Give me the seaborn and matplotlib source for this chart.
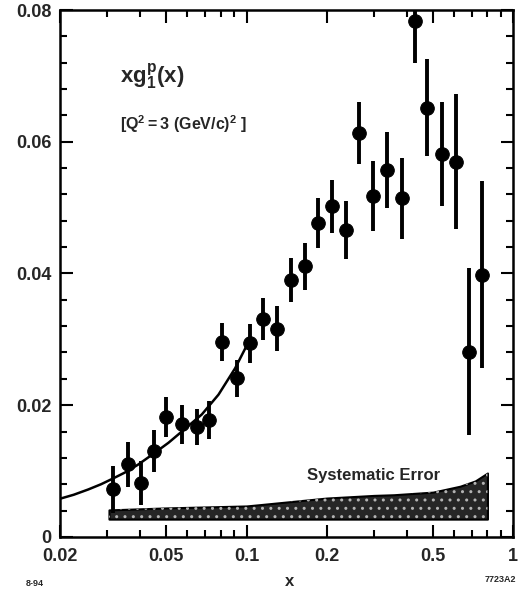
import matplotlib
matplotlib.use("Agg")
import matplotlib.pyplot as plt
import seaborn as sns
import pandas as pd
from matplotlib.ticker import FixedLocator, NullFormatter

# data points
x_pts = [0.0316, 0.0358, 0.0403, 0.0448, 0.0498, 0.0572, 0.0651, 0.0726, 0.0809,
         0.092, 0.1026, 0.1151, 0.130, 0.147, 0.165, 0.185, 0.209, 0.236, 0.263,
         0.299, 0.336, 0.382, 0.427, 0.475, 0.541, 0.610, 0.684, 0.764]
y_pts = [0.0072, 0.0110, 0.0082, 0.0131, 0.0182, 0.0171, 0.0167, 0.0177, 0.0296,
         0.0241, 0.0294, 0.0331, 0.0316, 0.0390, 0.0411, 0.0476, 0.0502, 0.0466,
         0.0613, 0.0518, 0.0557, 0.0514, 0.0784, 0.0652, 0.0582, 0.0570, 0.0281,
         0.0398]
y_err = [0.0036, 0.0034, 0.0033, 0.0032, 0.0030, 0.0030, 0.0027, 0.0029, 0.0029,
         0.0028, 0.0030, 0.0032, 0.0034, 0.0034, 0.0036, 0.0038, 0.0040, 0.0044,
         0.0047, 0.0053, 0.0058, 0.0062, 0.0065, 0.0073, 0.0079, 0.0103, 0.0127,
         0.0142]

# fitted curve
x_fit = [0.0200, 0.0225, 0.0255, 0.0285, 0.0317, 0.0355, 0.0393, 0.0454, 0.0510,
         0.0572, 0.068, 0.0785, 0.0906, 0.100]
y_fit = [0.0058, 0.0064, 0.0072, 0.0080, 0.0089, 0.0099, 0.0110, 0.0128, 0.0143,
         0.0160, 0.0186, 0.0216, 0.0256, 0.0290]

# systematic error band
x_sys = [0.0305, 0.05, 0.1, 0.1125, 0.15, 0.2, 0.3, 0.356, 0.5, 0.632, 0.72, 0.80]
sys_lo = [0.0027] * len(x_sys)
sys_hi = [0.0041, 0.0044, 0.0047, 0.0049, 0.0054, 0.0059, 0.0063, 0.0064, 0.0068,
          0.0077, 0.0085, 0.0097]

sns.set_style("ticks")
plt.rcParams["font.family"] = ["Liberation Sans", "DejaVu Sans"]
plt.rcParams["font.weight"] = "bold"
plt.rcParams["mathtext.fontset"] = "custom"
plt.rcParams["mathtext.rm"] = "Liberation Sans:bold"
plt.rcParams["mathtext.it"] = "Liberation Sans:bold"
plt.rcParams["mathtext.bf"] = "Liberation Sans:bold"

fig = plt.figure(figsize=(5.27, 5.90), dpi=100)
ax = fig.add_axes([0.114, 0.090, 0.860, 0.893])

# band
ax.fill_between(x_sys, sys_lo, sys_hi, facecolor="0.15", edgecolor="black", lw=1.5, zorder=2)
ax.fill_between(x_sys, sys_lo, sys_hi, facecolor="none", edgecolor="0.7", hatch="..",
                lw=0, zorder=3)

# curve
fit_df = pd.DataFrame({"x": x_fit, "y": y_fit})
sns.lineplot(data=fit_df, x="x", y="y", ax=ax, color="black", lw=1.8, zorder=4)

# points
ax.errorbar(x_pts, y_pts, yerr=y_err, fmt="none", ecolor="black", elinewidth=2.8, zorder=5)
pts_df = pd.DataFrame({"x": x_pts, "y": y_pts})
sns.scatterplot(data=pts_df, x="x", y="y", ax=ax, color="black", s=95, edgecolor="black",
                zorder=6)

ax.set_xscale("log")
ax.set_xlim(0.02, 1)
ax.set_ylim(0, 0.08)

ax.xaxis.set_major_locator(FixedLocator([0.02, 0.05, 0.1, 0.2, 0.5, 1]))
ax.xaxis.set_minor_locator(FixedLocator([0.03, 0.04, 0.06, 0.07, 0.08, 0.09, 0.3, 0.4,
                                         0.6, 0.7, 0.8, 0.9]))
ax.xaxis.set_minor_formatter(NullFormatter())
ax.set_xticklabels(["0.02", "0.05", "0.1", "0.2", "0.5", "1"])
ax.yaxis.set_major_locator(FixedLocator([0, 0.02, 0.04, 0.06, 0.08]))
ax.yaxis.set_minor_locator(FixedLocator([i * 0.004 for i in range(21)]))
ax.set_yticklabels(["0", "0.02", "0.04", "0.06", "0.08"])

ax.tick_params(which="both", direction="in", top=True, right=True, width=1.5, color="black")
ax.tick_params(which="major", length=9, labelsize=13)
ax.tick_params(axis="x", which="major", pad=8)
ax.tick_params(axis="y", which="major", pad=6)
ax.tick_params(which="minor", length=5)
for lab in ax.get_xticklabels() + ax.get_yticklabels():
    lab.set_fontweight("bold")
for sp in ax.spines.values():
    sp.set_linewidth(1.8)
    sp.set_color("black")

ax.set_xlabel("")
ax.set_ylabel("")

fig.text(120 / 527, 1 - 77 / 590, r"$\mathrm{xg_1^p(x)}$", fontsize=16, va="center",
         ha="left")
fig.text(120 / 527, 1 - 124 / 590, r"$\mathrm{[Q^2 = 3\ (GeV/c)^2\ ]}$", fontsize=11.5,
         va="center", ha="left")
ax.text(0.3, 0.0093, "Systematic Error", fontsize=12, fontweight="bold", ha="center",
        va="center")

fig.text(35 / 527, 1 - 583 / 590, "8-94", fontsize=6.5, fontweight="bold", ha="center",
         va="center")
fig.text(290 / 527, 1 - 582 / 590, "x", fontsize=12, fontweight="bold", ha="center",
         va="center")
fig.text(500 / 527, 1 - 580 / 590, "7723A2", fontsize=6.5, fontweight="bold",
         ha="center", va="center")

fig.savefig("out.png", dpi=100, facecolor="white")
